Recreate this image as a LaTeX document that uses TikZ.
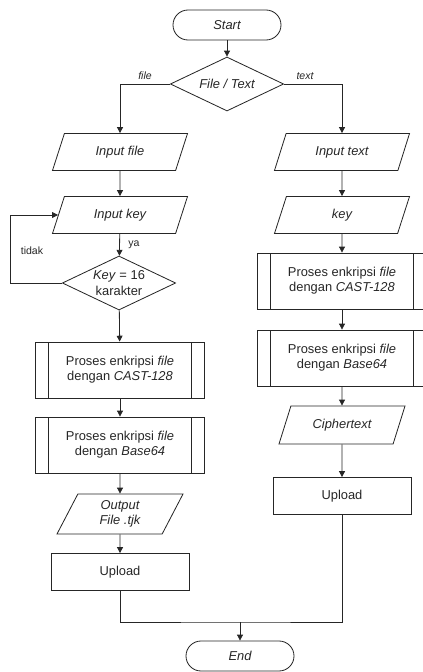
\documentclass[tikz,border=0pt]{standalone}
\usepackage{fontspec}
\setmainfont{Liberation Sans}
\usetikzlibrary{shapes.geometric,arrows.meta}

\begin{document}
\begin{tikzpicture}[x=0.03cm,y=-0.03cm,
  color=black!85, line width=0.7pt,
  every node/.style={font=\fontsize{11}{13}\selectfont, align=center},
  miring/.style={font=\fontsize{11}{13}\selectfont\itshape},
  terminal/.style={draw, rectangle, rounded corners=0.45cm, minimum width=3.24cm, minimum height=0.9cm, miring},
  pilihan/.style={draw, diamond, shape aspect=2, inner sep=0pt, minimum width=3.4cm, minimum height=1.62cm},
  io/.style={draw, trapezium, trapezium left angle=59, trapezium right angle=121, trapezium stretches body, minimum width=4.05cm, minimum height=1.11cm, miring},
  proses/.style={draw, rectangle, minimum width=5.07cm, minimum height=1.68cm,
    path picture={\draw ([xshift=0.38cm]path picture bounding box.north west) -- ([xshift=0.38cm]path picture bounding box.south west)
      ([xshift=-0.38cm]path picture bounding box.north east) -- ([xshift=-0.38cm]path picture bounding box.south east);}},
  kotak/.style={draw, rectangle, minimum width=4.14cm, minimum height=1.11cm},
  label kecil/.style={font=\fontsize{9}{11}\selectfont},
  panah/.style={-{Triangle[length=5pt,width=5pt]}}]

\clip (0,0) rectangle (423,672);

\node[terminal] (start) at (227,25) {Start};
\node[pilihan, miring] (pilih) at (227,84) {File / Text};

\node[io] (infile) at (120,152) {Input file};
\node[io] (inkey) at (120,215) {Input key};
\node[pilihan] (cek) at (119,283) {\textit{Key} = 16\\karakter};
\node[proses] (cast1) at (120,370) {Proses enkripsi \textit{file}\\dengan \textit{CAST-128}};
\node[proses] (b64a) at (120,445) {Proses enkripsi \textit{file}\\dengan \textit{Base64}};
\node[io, minimum width=3.78cm, minimum height=1.2cm] (out) at (120,514) {Output\\File .tjk};
\node[kotak] (up1) at (120,572) {Upload};

\node[io] (intext) at (342,152) {Input text};
\node[io] (key2) at (342,215) {key};
\node[proses] (cast2) at (342,281) {Proses enkripsi \textit{file}\\dengan \textit{CAST-128}};
\node[proses] (b64b) at (342,358) {Proses enkripsi \textit{file}\\dengan \textit{Base64}};
\node[io, minimum width=3.78cm, minimum height=1.14cm] (cipher) at (342,425) {Ciphertext};
\node[kotak] (up2) at (342,496) {Upload};

\node[terminal] (end) at (240,656) {End};

\coordinate (kiri) at (10,0);
\coordinate (gabung) at (240,622);

\draw[panah] (start) -- (pilih);
\draw[panah] (pilih.west) -| (infile.north);
\draw[panah] (pilih.east) -| (intext.north);
\node[label kecil] (lfile) at (145,76) {\itshape file};
\node[label kecil] (ltext) at (305,76) {\itshape text};

\draw[panah] (infile) -- (inkey);
\draw[panah] (inkey) -- (cek);
\draw[panah] (cek.west) -- (cek.west -| kiri) |- (inkey.west);
\node[label kecil] (lya) at (134,245) {ya};
\node[label kecil] (ltidak) at (32,251) {tidak};
\draw[panah] (cek) -- (cast1);
\draw[panah] (cast1) -- (b64a);
\draw[panah] (b64a) -- (out);
\draw[panah] (out) -- (up1);

\draw[panah] (intext) -- (key2);
\draw[panah] (key2) -- (cast2);
\draw[panah] (cast2) -- (b64b);
\draw[panah] (b64b) -- (cipher);
\draw[panah] (cipher) -- (up2);

\draw (up1) |- (gabung) -| (up2);
\draw[panah] (gabung) -- (end);
\end{tikzpicture}
\end{document}
